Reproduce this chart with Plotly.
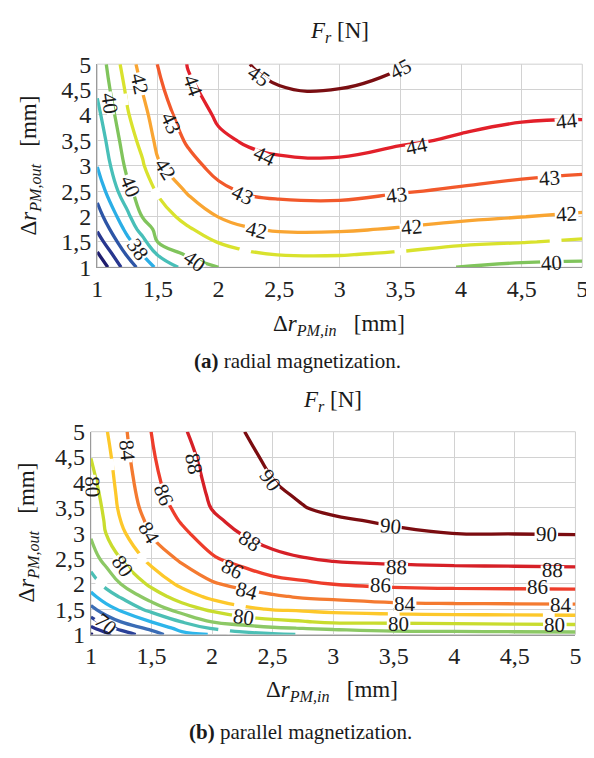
import math
import plotly.graph_objects as go

W, H = 594, 758
OFF = 8  # default page body margin in the written html
FONT = "Liberation Serif, Times New Roman, Times, serif"

# ---------------- panel (a): radial magnetization ----------------
xa = [1, 1.25, 1.375, 1.5, 1.75, 2, 2.25, 2.5, 3, 3.5, 4, 4.5, 5]
ya = [1, 1.25, 1.5, 1.75, 2, 2.5, 3, 3.5, 4, 4.5, 5]
za = [
    [34.2, 36.5, 37.37, 38.2, 39.4, 40.0, 40.3, 40.47, 40.5, 40.34, 39.97, 39.76, 39.72],
    [34.87, 37.12, 38.03, 39.06, 40.17, 40.52, 40.85, 41.02, 41.04, 40.87, 40.6, 40.42, 40.3],
    [35.54, 37.75, 38.68, 40.03, 40.54, 41.04, 41.39, 41.58, 41.59, 41.4, 41.17, 41.04, 40.88],
    [36.11, 38.29, 39.45, 40.29, 40.9, 41.52, 41.94, 42.1, 42.1, 41.94, 41.72, 41.52, 41.39],
    [36.58, 38.77, 40.07, 40.55, 41.32, 42.03, 42.37, 42.51, 42.53, 42.33, 42.17, 42.02, 41.88],
    [37.36, 39.76, 40.49, 41.11, 42.12, 42.78, 43.13, 43.23, 43.27, 43.06, 42.9, 42.74, 42.61],
    [38.03, 40.25, 40.9, 41.88, 42.69, 43.32, 43.67, 43.83, 43.86, 43.62, 43.43, 43.29, 43.2],
    [38.38, 40.59, 41.29, 42.27, 43.13, 43.82, 44.12, 44.24, 44.27, 44.1, 43.92, 43.75, 43.64],
    [38.75, 40.92, 41.68, 42.55, 43.44, 44.15, 44.41, 44.58, 44.62, 44.42, 44.22, 44.1, 44.08],
    [39.13, 41.2, 42.05, 42.78, 43.85, 44.32, 44.7, 44.95, 44.99, 44.73, 44.49, 44.33, 44.25],
    [39.35, 41.54, 42.37, 43.03, 44.05, 44.58, 44.99, 45.26, 45.3, 45.05, 44.75, 44.55, 44.4],
]
levels_a = [35, 36, 37, 38, 39, 40, 41, 42, 43, 44, 45]
colors_a = ["#1f1d6e", "#28378f", "#2d55a6", "#2aaee6", "#48bfb8", "#80c45c",
            "#d9e22d", "#f9a532", "#f2592b", "#e2202a", "#7a0e12"]

# contour label texts with their (x, y, angle) for panel (a)
labels_a = [
    ("45", 2.33, 4.76, 35), ("45", 3.5, 4.9, -28),
    ("44", 1.79, 4.57, 70), ("44", 2.38, 3.19, 25), ("44", 3.64, 3.38, -12), ("44", 4.87, 3.88, -6),
    ("43", 1.61, 3.85, 65), ("43", 2.2, 2.42, 25), ("43", 3.47, 2.43, -7), ("43", 4.73, 2.75, -4),
    ("42", 1.35, 4.61, 78), ("42", 1.56, 2.94, 58), ("42", 2.31, 1.74, 12), ("42", 3.59, 1.8, -5),
    ("42", 4.87, 2.05, -3),
    ("40", 1.1, 4.23, 82), ("40", 1.27, 2.6, 68), ("40", 1.8, 1.12, 35), ("40", 4.75, 1.08, -3),
    ("38", 1.33, 1.35, 55),
]
gaps_a = [(1.22, 4.3, 80), (1.49, 2.45, 60), (2.22, 1.33, 18), (3.5, 1.31, -5), (4.78, 1.52, -3)]

# ---------------- panel (b): parallel magnetization ----------------
xb = [1, 1.125, 1.25, 1.5, 1.75, 2, 2.25, 2.5, 2.75, 3, 3.5, 4, 4.5, 5]
yb = [1, 1.125, 1.25, 1.5, 1.75, 2, 2.5, 3, 3.25, 3.5, 3.75, 4, 4.5, 5]
zb = [
    [65.8, 67.4, 69.04, 71.04, 73.4, 74.1, 75.2, 75.7, 76.1, 76.4, 77.15, 77.2, 77.25, 77.3],
    [67.56, 69.31, 70.53, 72.53, 74.68, 76.2, 77.15, 77.75, 78.07, 78.42, 78.77, 78.87, 78.97, 79.07],
    [69.13, 70.73, 72.03, 74.03, 76.03, 78.03, 78.85, 79.48, 79.86, 80.31, 80.35, 80.47, 80.57, 80.67],
    [71.44, 73.16, 74.37, 76.67, 79.04, 80.42, 81.63, 82.13, 82.38, 82.64, 83.0, 83.14, 83.19, 83.24],
    [73.44, 75.06, 76.23, 78.97, 80.96, 82.51, 83.21, 83.74, 84.24, 84.45, 84.92, 85.07, 85.1, 85.13],
    [75.03, 76.57, 78.08, 80.46, 82.5, 83.79, 84.58, 85.31, 85.7, 86.05, 86.42, 86.54, 86.58, 86.62],
    [77.08, 78.69, 80.09, 82.71, 84.36, 85.8, 86.7, 87.6, 87.94, 88.25, 88.46, 88.57, 88.63, 88.69],
    [78.26, 80.03, 81.63, 84.2, 85.64, 87.01, 88.1, 88.7, 88.93, 89.25, 89.74, 90.02, 90.05, 90.08],
    [78.55, 80.25, 82.07, 84.6, 86.17, 87.75, 88.4, 89.0, 89.45, 89.8, 90.22, 90.42, 90.45, 90.47],
    [78.84, 80.46, 82.5, 85.0, 86.55, 88.06, 88.62, 89.35, 89.95, 90.3, 90.6, 90.75, 90.8, 90.82],
    [79.13, 80.68, 82.7, 85.3, 86.9, 88.25, 88.98, 89.78, 90.15, 90.45, 90.72, 90.85, 90.9, 90.92],
    [79.43, 80.9, 82.9, 85.5, 87.1, 88.38, 89.1, 89.96, 90.3, 90.6, 90.85, 90.95, 91.0, 91.02],
    [80.03, 81.33, 83.25, 85.8, 87.4, 88.64, 89.55, 90.35, 90.6, 90.85, 91.05, 91.15, 91.2, 91.22],
    [80.45, 81.85, 83.5, 86.03, 87.8, 88.9, 89.95, 90.6, 90.85, 91.05, 91.25, 91.35, 91.4, 91.42],
]
levels_b = [66, 68, 70, 72, 74, 76, 78, 80, 82, 84, 86, 88, 90]
colors_b = ["#1f1d6e", "#25308a", "#2a4198", "#3a6cb5", "#2db5ea", "#4cbfb5", "#8cc865",
            "#c9dc2e", "#fdc82a", "#f47a30", "#ee3d2b", "#d62027", "#7b0c10"]

labels_b = [
    ("90", 2.48, 4.05, 55), ("90", 3.47, 3.14, 5), ("90", 4.76, 2.98, 2),
    ("88", 1.85, 4.36, 79), ("88", 2.31, 2.84, 32), ("88", 3.52, 2.34, 2), ("88", 4.81, 2.28, 1),
    ("86", 1.6, 3.75, 68), ("86", 2.17, 2.3, 28), ("86", 3.39, 1.97, 2), ("86", 4.69, 1.93, 0),
    ("84", 1.3, 4.62, 85), ("84", 1.48, 3.0, 60), ("84", 2.29, 1.86, 15), ("84", 3.59, 1.6, 0),
    ("84", 4.88, 1.59, 0),
    ("80", 1.01, 3.92, 88), ("80", 1.26, 2.35, 55), ("80", 2.26, 1.34, 8), ("80", 3.54, 1.2, 0),
    ("80", 4.83, 1.18, 0),
    ("70", 1.12, 1.2, 40),
]
gaps_b = [(1.16, 4.35, 85), (1.42, 2.5, 58), (2.23, 1.57, 10), (3.5, 1.39, 0), (4.78, 1.37, 0),
          (1.08, 2.02, 40), (2.1, 1.09, 8)]

tick_vals = [1, 1.5, 2, 2.5, 3, 3.5, 4, 4.5, 5]
tick_text = ["1", "1,5", "2", "2,5", "3", "3,5", "4", "4,5", "5"]

# ---------------- layout geometry (page pixels) ----------------
A_X = (93, 588)
A_Y = (52.7, 263)
B_X = (86.5, 581)
B_Y = (433.3, 643.3)


def dom_x(px):
    return [(px[0] - OFF) / W, (px[1] - OFF) / W]


def dom_y(py):
    return [1 - (py[1] - OFF) / H, 1 - (py[0] - OFF) / H]


fig = go.Figure()


def add_panel(x, y, z, levels, colors, xa_name, ya_name):
    for lev, col in zip(levels, colors):
        fig.add_trace(go.Contour(
            x=x, y=y, z=z, xaxis=xa_name, yaxis=ya_name,
            autocontour=False,
            contours=dict(start=lev, end=lev + 0.5, size=1, coloring="lines", showlabels=False),
            colorscale=[[0, col], [1, col]], showscale=False,
            line=dict(width=3.3, smoothing=1.3), hoverinfo="skip",
        ))


add_panel(xa, ya, za, levels_a, colors_a, "x", "y")
add_panel(xb, yb, zb, levels_b, colors_b, "x2", "y2")

axis_common = dict(
    range=[1, 5], tickvals=tick_vals, ticktext=tick_text, ticks="",
    showgrid=True, gridcolor="#d2d2d2", gridwidth=1, zeroline=False,
    showline=True, linecolor="#9a9a9a", linewidth=1.3, mirror=False,
    tickfont=dict(family=FONT, size=24, color="#222"), fixedrange=True,
)

fig.update_layout(
    width=W, height=H, autosize=False,
    margin=dict(l=0, r=0, t=0, b=0),
    paper_bgcolor="white", plot_bgcolor="white",
    showlegend=False,
    xaxis=dict(domain=dom_x(A_X), anchor="y", **axis_common),
    yaxis=dict(domain=dom_y(A_Y), anchor="x", **axis_common),
    xaxis2=dict(domain=dom_x(B_X), anchor="y2", **axis_common),
    yaxis2=dict(domain=dom_y(B_Y), anchor="x2", **axis_common),
)

shapes = []
annotations = []


def gap_path(cx, cy, ang, sx, sy, hl, hw):
    t = math.radians(ang)
    dx, dy = math.cos(t) / sx, -math.sin(t) / sy
    px_, py_ = -math.sin(t) / sx, -math.cos(t) / sy
    pts = []
    for a, b in [(hl, hw), (hl, -hw), (-hl, -hw), (-hl, hw)]:
        pts.append((cx + a * dx + b * px_, cy + a * dy + b * py_))
    return "M " + " L ".join(f"{p[0]:.4f},{p[1]:.4f}" for p in pts) + " Z"


def panel_decor(labels, gaps, xr, yr, pxx, pxy):
    sx = (pxx[1] - pxx[0]) / 4.0
    sy = (pxy[1] - pxy[0]) / 4.0
    shapes.append(dict(type="rect", xref=xr + " domain", yref=yr + " domain",
                       x0=0, x1=1, y0=0, y1=1, line=dict(color="#cfcfcf", width=1),
                       layer="below"))
    for (cx, cy, ang) in gaps:
        shapes.append(dict(type="path", xref=xr, yref=yr,
                           path=gap_path(cx, cy, ang, sx, sy, 6, 4),
                           fillcolor="white", line=dict(width=0), layer="above"))
    for (txt, cx, cy, ang) in labels:
        shapes.append(dict(type="path", xref=xr, yref=yr,
                           path=gap_path(cx, cy, ang, sx, sy, 12, 4),
                           fillcolor="white", line=dict(width=0), layer="above"))
        annotations.append(dict(text=txt, x=cx, y=cy, xref=xr, yref=yr, showarrow=False,
                                textangle=ang, xanchor="center", yanchor="middle",
                                font=dict(family=FONT, size=21, color="#1a1a1a")))


panel_decor(labels_a, gaps_a, "x", "y", A_X, A_Y)
panel_decor(labels_b, gaps_b, "x2", "y2", B_X, B_Y)


def paper_text(text, px, py, size, angle=0):
    annotations.append(dict(text=text, x=(px - OFF) / W, y=1 - (py - OFF) / H,
                            xref="paper", yref="paper",
                            showarrow=False, textangle=angle, xanchor="center", yanchor="middle",
                            font=dict(family=FONT, size=size, color="#1a1a1a")))


title_txt = "<i>F</i><sub><i>r</i></sub> [N]"
ytitle = "Δ<i>r</i><sub><i>PM,out</i></sub>   [mm]"
xtitle = "Δ<i>r</i><sub><i>PM,in</i></sub>   [mm]"

paper_text(title_txt, 340, 19, 23)
paper_text(ytitle, 24, 158, 23, -90)
paper_text(xtitle, 340, 323, 23)
paper_text("<b>(a)</b> radial magnetization.", 297, 360, 21)

paper_text(title_txt, 333, 401, 23)
paper_text(ytitle, 22, 538, 23, -90)
paper_text(xtitle, 333, 702, 23)
paper_text("<b>(b)</b> parallel magnetization.", 300, 744, 21)

fig.update_layout(shapes=shapes, annotations=annotations)
fig.write_html("out.html")
